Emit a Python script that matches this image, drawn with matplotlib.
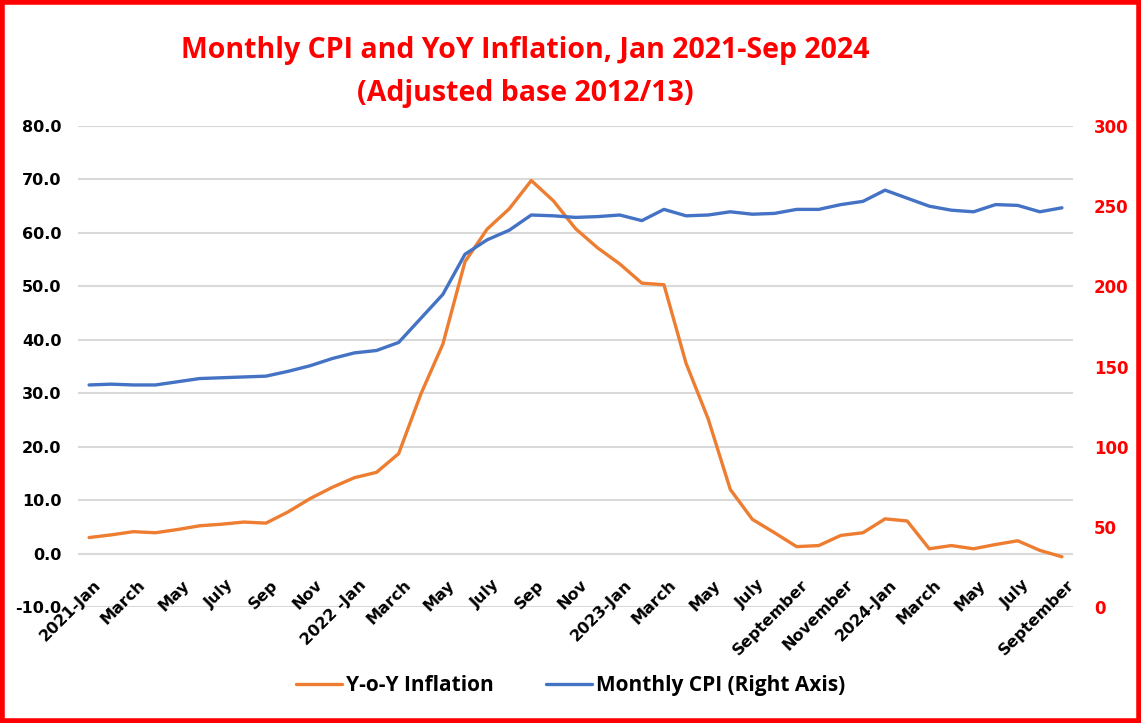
import matplotlib
matplotlib.use('Agg')
import matplotlib.pyplot as plt
import matplotlib.transforms as mtransforms
from matplotlib.patches import Rectangle
import numpy as np

# tick labels every second month, Jan 2021 .. Sep 2024
tick_labels = ['2021-Jan', 'March', 'May', 'July', 'Sep', 'Nov',
               '2022 -Jan', 'March', 'May', 'July', 'Sep', 'Nov',
               '2023-Jan', 'March', 'May', 'July', 'September', 'November',
               '2024-Jan', 'March', 'May', 'July', 'September']

yoy_inflation = [3.0, 3.5, 4.1, 3.9, 4.5, 5.2, 5.5, 5.9, 5.7, 7.8, 10.3, 12.4,
                 14.2, 15.2, 18.7, 29.8, 39.2, 54.6, 60.7, 64.5, 69.8, 66.0, 60.8, 57.2,
                 54.2, 50.6, 50.3, 35.6, 25.2, 12.0, 6.4, 3.9, 1.3, 1.5, 3.4, 3.9,
                 6.5, 6.1, 0.9, 1.5, 0.9, 1.7, 2.4, 0.6, -0.6]

monthly_cpi = [138.5, 139.0, 138.5, 138.5, 140.5, 142.5, 143.0, 143.5, 144.0, 147.0, 150.5, 155.0,
               158.5, 160.0, 165.0, 180.0, 195.0, 220.0, 229.0, 235.0, 244.5, 244.0, 243.0, 243.5,
               244.5, 241.0, 248.0, 244.0, 244.5, 246.5, 245.0, 245.5, 248.0, 248.0, 251.0, 253.0,
               260.0, 255.0, 250.0, 247.5, 246.5, 251.0, 250.5, 246.5, 249.0]

x = np.arange(len(yoy_inflation))

fig = plt.figure(figsize=(11.41, 7.23), dpi=100)
ax = fig.add_axes([0.0684, 0.1604, 0.872, 0.6653])
ax2 = ax.twinx()

l1, = ax.plot(x, yoy_inflation, color='#ED7D31', lw=2.4, solid_capstyle='round',
              label='Y-o-Y Inflation')
l2, = ax2.plot(x, monthly_cpi, color='#4472C4', lw=2.4, solid_capstyle='round',
               label='Monthly CPI (Right Axis)')

ax.set_xlim(-0.5, len(x) - 0.5)
ax.set_ylim(-10, 80)
ax.set_yticks(np.arange(-10, 81, 10))
ax.set_yticklabels(['{:.1f}'.format(v) for v in np.arange(-10, 81, 10)])
ax2.set_ylim(0, 300)
ax2.set_yticks(np.arange(0, 301, 50))

ax.grid(axis='y', color='#D9D9D9', lw=1.5)
ax.set_axisbelow(True)
for a in (ax, ax2):
    for spine in a.spines.values():
        spine.set_visible(False)
    a.tick_params(length=0)

# category labels sit just under the zero line (axis crosses at 0)
ax.set_xticks([])
trans = mtransforms.blended_transform_factory(ax.transData, ax.transAxes)
for xi, lab in zip(x[::2], tick_labels):
    ax.text(xi + 0.2, 0.062, lab, transform=trans, rotation=45, ha='right', va='top',
            rotation_mode='anchor', fontsize=11.5, fontweight='bold', zorder=5)

ax.tick_params(axis='y', labelsize=11.5, pad=12)
for t in ax.get_yticklabels():
    t.set_fontweight('bold')
ax2.tick_params(axis='y', labelsize=12, labelcolor='red', pad=15)
for t in ax2.get_yticklabels():
    t.set_fontweight('bold')

fig.text(0.46, 0.93, 'Monthly CPI and YoY Inflation, Jan 2021-Sep 2024',
         color='red', fontsize=20.5, fontweight='bold', ha='center', va='center',
         family='Open Sans')
fig.text(0.46, 0.871, '(Adjusted base 2012/13)',
         color='red', fontsize=20.5, fontweight='bold', ha='center', va='center',
         family='Open Sans')

leg = fig.legend(handles=[l1, l2], loc='center', bbox_to_anchor=(0.5, 0.052), ncol=2,
                 frameon=False, prop={'family': 'Open Sans', 'weight': 'bold', 'size': 15},
                 handlelength=2.2, handletextpad=0.2, columnspacing=2.5)

fig.patches.append(Rectangle((0.002, 0.003), 0.996, 0.994, transform=fig.transFigure,
                             fill=False, edgecolor='red', lw=4))

fig.savefig('out.png', dpi=100)
